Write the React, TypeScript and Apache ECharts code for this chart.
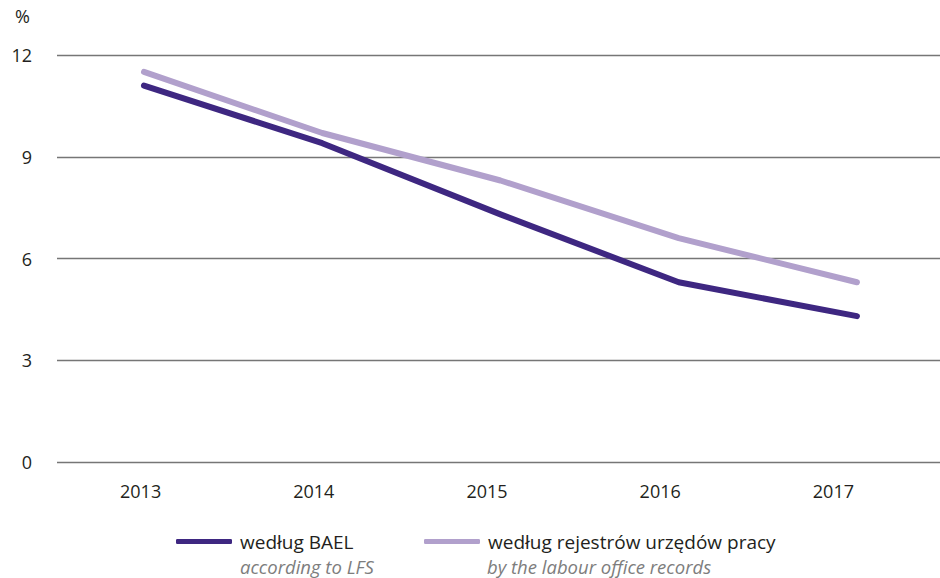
import React, { useEffect, useRef } from "react";
import * as echarts from "echarts";

const years = ["2013", "2014", "2015", "2016", "2017"];
const baelValues = [11.1, 9.4, 7.3, 5.3, 4.3];
const registerValues = [11.5, 9.7, 8.3, 6.6, 5.3];
const yTicks = { min: 0, max: 12, interval: 3 };
const seriesNames = ["według BAEL", "według rejestrów urzędów pracy"];
const seriesSubtitles = ["according to LFS", "by the labour office records"];
const unitLabel = "%";

const FONT = "'Open Sans', 'Noto Sans', sans-serif";
const DARK = "#3e2781";
const LIGHT = "#b1a0cc";
const TEXT = "#231f20";

export default function App() {
  const ref = useRef<HTMLDivElement>(null);
  useEffect(() => {
    if (!ref.current) return;
    const chart = echarts.init(ref.current, undefined, { renderer: "svg" });
    const toPairs = (vals: number[]) => years.map((y, i) => [Number(y), vals[i]]);
    const legendText = { fontFamily: FONT, fontSize: 19, lineHeight: 20, color: TEXT, padding: [0, 0, 0, 3] };
    const legendCommon = {
      top: 531.5,
      padding: 0,
      itemWidth: 56,
      itemHeight: 5,
      icon: "roundRect",
      textStyle: legendText,
    };
    chart.setOption({
      animation: false,
      textStyle: { fontFamily: FONT },
      grid: [
        { left: 57, right: 0, top: 55, bottom: 116 },
        { left: 54, right: 20, top: 55, bottom: 116 },
      ],
      xAxis: [
        {
          type: "value",
          gridIndex: 0,
          min: 2012.512,
          max: 2017.466,
          axisLine: { show: false },
          axisTick: { show: false },
          axisLabel: { show: false },
          splitLine: { show: false },
        },
        {
          type: "category",
          gridIndex: 1,
          data: years,
          axisLine: { show: false },
          axisTick: { show: false },
          axisLabel: { color: TEXT, fontSize: 18, fontFamily: FONT, margin: 19, lineHeight: 20 },
        },
      ],
      yAxis: [
        {
          type: "value",
          gridIndex: 0,
          min: yTicks.min,
          max: yTicks.max,
          interval: yTicks.interval,
          name: unitLabel,
          nameLocation: "end",
          nameGap: 30,
          nameTextStyle: { color: TEXT, fontSize: 18, fontFamily: FONT, align: "right", padding: [0, 27, 0, 0] },
          axisLine: { show: false },
          axisTick: { show: false },
          axisLabel: { color: TEXT, fontSize: 18, fontFamily: FONT, margin: 25 },
          splitLine: { show: true, lineStyle: { color: "#767676", width: 1.3 } },
        },
        {
          type: "value",
          gridIndex: 1,
          min: yTicks.min,
          max: yTicks.max,
          show: false,
          splitLine: { show: false },
        },
      ],
      legend: [
        { ...legendCommon, data: [seriesNames[0]], left: 176 },
        { ...legendCommon, data: [seriesNames[1]], left: 424 },
      ],
      graphic: [
        {
          type: "text",
          left: 240,
          top: 556,
          style: { text: seriesSubtitles[0], fill: "#7d7d7d", fontSize: 18.5, lineHeight: 20, fontStyle: "italic", fontFamily: FONT },
        },
        {
          type: "text",
          left: 487,
          top: 556,
          style: { text: seriesSubtitles[1], fill: "#7d7d7d", fontSize: 18.5, lineHeight: 20, fontStyle: "italic", fontFamily: FONT },
        },
      ],
      series: [
        {
          name: seriesNames[0],
          type: "line",
          xAxisIndex: 0,
          yAxisIndex: 0,
          data: toPairs(baelValues),
          symbol: "none",
          lineStyle: { color: DARK, width: 6, cap: "round", join: "round" },
          itemStyle: { color: DARK },
          z: 3,
        },
        {
          name: seriesNames[1],
          type: "line",
          xAxisIndex: 0,
          yAxisIndex: 0,
          data: toPairs(registerValues),
          symbol: "none",
          lineStyle: { color: LIGHT, width: 6, cap: "round", join: "round" },
          itemStyle: { color: LIGHT },
          z: 2,
        },
      ],
    });
    return () => chart.dispose();
  }, []);
  return <div ref={ref} style={{ width: 940, height: 578, position: "absolute", left: 0, top: 0 }} />;
}
